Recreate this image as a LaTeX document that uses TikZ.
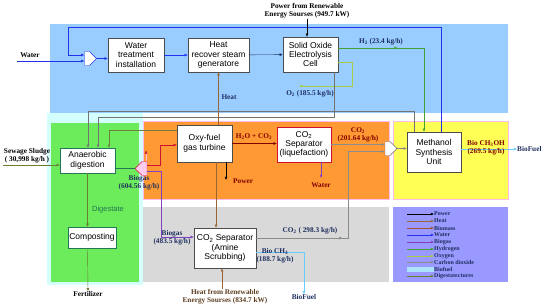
\documentclass[tikz,border=0pt]{standalone}
\usepackage{fontspec}
\setmainfont{Liberation Serif}
\setsansfont{Liberation Sans}
\usetikzlibrary{arrows.meta,positioning,shapes.symbols,decorations.markings}
\definecolor{bioSky}{HTML}{99CCFF}
\definecolor{bioCyan}{HTML}{D4FFFF}
\definecolor{bioGreen}{HTML}{6CEB5B}
\definecolor{bioOrange}{HTML}{FF9933}
\definecolor{bioYellow}{HTML}{FFFF55}
\definecolor{bioGrey}{HTML}{D9D9D9}
\definecolor{bioLegend}{HTML}{9999FF}
\definecolor{bioPink}{HTML}{FFBBEE}
\definecolor{bioPinkFill}{HTML}{FFCCEE}
\definecolor{bioBlue}{HTML}{2233EE}
\definecolor{bioHeat}{HTML}{996633}
\definecolor{bioMass}{HTML}{A0522D}
\definecolor{bioGas}{HTML}{8040C0}
\definecolor{bioRed}{HTML}{CC1133}
\definecolor{bioH2}{HTML}{44A033}
\definecolor{bioO2}{HTML}{A8CC44}
\definecolor{bioCO2}{HTML}{8C8C8C}
\definecolor{bioFuel}{HTML}{66CCFF}
\definecolor{bioDigest}{HTML}{6B7F30}
\definecolor{bioTeal}{HTML}{227755}
\definecolor{bioNavy}{HTML}{1F2F5F}
\definecolor{bioMaroon}{HTML}{800000}

\begin{document}
\begin{tikzpicture}[x=1pt,y=-1pt,
    >={Latex[length=3.2pt,width=2.8pt]},
    every node/.style={inner sep=0pt},
    unitbox/.style={draw=black!70, fill=white, font=\sffamily\fontsize{8.5}{9.4}\selectfont, align=center, inner sep=1pt},
    lbl/.style={font=\bfseries\fontsize{7.3}{8}\selectfont, align=center},
    mixer/.style={signal, draw=#1, fill=white, minimum width=12pt, minimum height=14pt, inner sep=0pt},
    midtip/.style={postaction={decorate}, decoration={markings, mark=at position #1 with {\arrow{Latex[length=3.2pt,width=2.8pt]}}}},
    powerflow/.style={color=black, ->},
    heatflow/.style={color=bioHeat, ->},
    massflow/.style={color=bioMass, ->},
    waterflow/.style={color=bioBlue, ->},
    gasflow/.style={color=bioGas, ->},
    h2flow/.style={color=bioH2, ->},
    o2flow/.style={color=bioO2, ->},
    co2flow/.style={color=bioCO2, ->},
    fuelflow/.style={color=bioFuel, ->},
    fuelkey/.style={color=bioFuel!55, line width=5pt},
    digestflow/.style={color=bioDigest, ->}]
  \useasboundingbox (0,0) rectangle (550,308);

  % zones
  \fill[bioSky] (50,24) rectangle (508,113);
  \fill[bioCyan] (47,113) rectangle (143,285);
  \fill[bioGreen] (51,123) rectangle (139,282);
  \filldraw[fill=bioOrange, draw=bioPink] (143,121) rectangle (389,199);
  \fill[bioGrey] (143,207) rectangle (389,282);
  \filldraw[fill=bioYellow, draw=bioPink] (393,121) rectangle (508,199);
  \fill[bioLegend] (393,207) rectangle (508,282);

  % units
  \node[unitbox, minimum width=56pt, minimum height=34pt] (wti) at (136,55) {Water\\treatment\\installation};
  \node[unitbox, minimum width=61pt, minimum height=34pt] (hrsg) at (218.5,55) {Heat\\recover steam\\generatore};
  \node[unitbox, minimum width=55pt, minimum height=35pt] (soec) at (310.5,54.5) {Solid Oxide\\Electrolysis\\Cell};
  \node[unitbox, draw=bioTeal, minimum width=55pt, minimum height=25pt] (ad) at (87.5,160.5) {Anaerobic\\digestion};
  \node[unitbox, draw=bioTeal, minimum width=48pt, minimum height=21pt] (comp) at (92,237.5) {Composting};
  \node[unitbox, minimum width=55pt, minimum height=37pt] (oxy) at (204.5,143.5) {Oxy-fuel\\gas turbine};
  \node[unitbox, draw=bioRed, minimum width=54pt, minimum height=35pt] (liq) at (304,144.5) {CO\textsubscript{2}\\Separator\\(liquefaction)};
  \node[unitbox, minimum width=54pt, minimum height=40pt] (meth) at (434,152) {Methanol\\Synthesis\\Unit};
  \node[unitbox, minimum width=62pt, minimum height=40pt] (amine) at (225,248) {CO\textsubscript{2} Separator\\(Amine\\Scrubbing)};

  \node[mixer=bioBlue] (mixW) at (87,58.5) {};
  \node[mixer=bioRed, signal to=west, fill=bioPinkFill] (split) at (144.5,168.5) {};
  \node[mixer=black!60] (mixC) at (387.5,148.5) {};

  % sources and sinks
  \node[lbl] (wLbl) at (30,55) {Water};
  \coordinate (wSrc) at (17,61);
  \node[lbl] (pwIn) at (307,11) {Power from Renewable\\Energy Sourses (949.7 kW)};
  \node[lbl] (ssLbl) at (27,156) {Sewage Sludge\\( 30,998 kg/h )};
  \coordinate (ssSrc) at (3,165);
  \node[lbl] (fert) at (88,294) {Fertilizer};
  \node[lbl, text=bioNavy] (bfB) at (304,297) {BioFuel};
  \node[lbl, text=bioNavy, anchor=west] (bfA) at (517,149) {BioFuel};
  \node[lbl, text=bioHeat!60!black] (hrIn) at (225,297) {Heat from Renewable\\Energy Sourses (834.7 kW)};
  \coordinate (pwOut) at (226,180);
  \coordinate (wtOut) at (321,178);
  \coordinate (o2Out) at (299,86);

  % water loop
  \coordinate (rcA) at (441,27);
  \coordinate (rcB) at (68,27);
  \draw[waterflow] (wSrc) -- (wSrc -| mixW.west);
  \draw[waterflow] (meth.north -| rcA) -- (rcA) -- (rcB) |- ([yshift=3.5pt]mixW.west);
  \draw[waterflow] (mixW.east) -- (mixW.east -| wti.west);
  \draw[waterflow] (wti) -- (hrsg);
  \draw[waterflow, color=bioNavy] (hrsg) -- (soec);
  \draw[powerflow] (pwIn.south) -- (pwIn.south |- soec.north);

  % electrolysis products
  \coordinate (h2c) at (424,48);
  \draw[h2flow, midtip=0.35] ([yshift=6.5pt]soec.east) -- (h2c) -- (h2c |- meth.north);
  \coordinate (o2c) at (352,62);
  \draw[o2flow] ([yshift=-7.5pt]soec.east) -- (o2c) |- (o2Out);
  \node[lbl, text=bioNavy] (h2Lbl) at (381,42) {H\textsubscript{2} (23.4 kg/h)};
  \node[lbl, text=bioNavy] (o2Lbl) at (310,94) {O\textsubscript{2} (185.5 kg/h)};
  \draw[heatflow] (oxy.north -| hrsg.south) -- (hrsg.south);
  \node[lbl, text=bioNavy] (heatLbl) at (229,97) {Heat};

  % returns to digester
  \coordinate (rtA) at (414,111);
  \coordinate (rtB) at (88,111);
  \draw[co2flow, color=black!55] (meth.north -| rtA) -- (rtA) -- (rtB) -- (rtB |- ad.north);
  \coordinate (rtC) at (334,117);
  \coordinate (rtD) at (98,117);
  \draw[co2flow, color=black!55] (soec.south -| rtC) -- (rtC) -- (rtD) -- (rtD |- ad.north);
  \coordinate (rtE) at (109,130);
  \draw[digestflow, color=bioDigest!80!gray] (rtE -| oxy.west) -- (rtE) -- (rtE |- ad.north);

  % digester line
  \draw[digestflow] (ssSrc) -- (ssSrc -| ad.west);
  \draw[bioTeal] (ad.east |- split.west) -- (split.west);
  \draw[digestflow] (ad.south) -- (ad.south |- comp.north);
  \node[font=\sffamily\fontsize{7.5}{8}\selectfont, text=bioTeal] (dgLbl) at (108,210) {Digestate};
  \draw[digestflow] (ad.south |- comp.south) -- (fert.north);

  % biogas split
  \coordinate (bgA) at (160,145);
  \coordinate (bgB) at (161,237);
  \draw[color=bioRed, ->] ([yshift=3pt]split.east) -| (bgA) -- (bgA -| oxy.west);
  \draw[color=bioPink, -{Latex[length=3.2pt,width=2.8pt,color=bioRed]}] ([xshift=1.5pt]split.north) -- ++(0,-11);
  \draw[gasflow] ([yshift=-3pt]split.east) -| (bgB) -- (bgB -| amine.west);
  \node[lbl, text=bioNavy] (bg1Lbl) at (139,183) {Biogas\\(604.56 kg/h)};
  \node[lbl, text=bioNavy] (bg2Lbl) at (172,238) {Biogas\\(483.5 kg/h)};

  % turbine
  \draw[color=bioMaroon, ->] (oxy.east) -- (oxy.east -| liq.west);
  \node[lbl, text=bioMaroon] (exLbl) at (254,137) {H\textsubscript{2}O + CO\textsubscript{2}};
  \draw[powerflow] ([xshift=21.5pt]oxy.south) -- (pwOut);
  \node[lbl, text=bioMaroon, anchor=west] (pwLbl) at (233,181) {Power};
  \draw[heatflow] ([xshift=11.5pt]oxy.south) -- ([xshift=11.5pt]oxy.south |- amine.north);
  \draw[color=bioGas, ->] ([xshift=17pt]liq.south) -- (wtOut);
  \node[lbl, text=bioMaroon] (wtLbl) at (321,185) {Water};

  % carbon dioxide to methanol
  \draw[co2flow] (liq.east) -- (liq.east -| mixC.west);
  \node[lbl, text=bioMaroon] (co2aLbl) at (358,135) {CO\textsubscript{2}\\(201.64 kg/h)};
  \coordinate (co2c) at (348,238);
  \draw[co2flow, midtip=0.4] ([yshift=10pt]amine.east) -- (co2c) |- ([yshift=-3pt]mixC.west);
  \node[lbl, text=bioNavy] (co2bLbl) at (310,231) {CO\textsubscript{2} ( 298.3 kg/h)};
  \draw[co2flow] (mixC.east) -- (mixC.east -| meth.west);

  % fuels
  \draw[fuelflow] ([yshift=3pt]meth.east) -- (bfA.west);
  \node[lbl, text=bioMaroon] (meLbl) at (486,148) {Bio CH\textsubscript{3}OH\\(269.5 kg/h)};
  \coordinate (bfc) at (304,252);
  \draw[fuelflow] ([yshift=-4pt]amine.east) -- (bfc) -- (bfB.north);
  \node[lbl, text=bioNavy] (chLbl) at (275,256) {Bio CH\textsubscript{4}\\(188.7 kg/h)};
  \draw[heatflow] (hrIn.north -| 222,0) -- (amine.south -| 222,0);

  % legend
  \foreach \yy/\st/\txt [count=\i] in {214/powerflow/Power, 221/heatflow/Heat, 228/massflow/Biomass,
      235/waterflow/Water, 242/gasflow/Biogas, 249/h2flow/Hydrogen, 256/o2flow/Oxygen,
      262/co2flow/Carbon dioxide, 269/fuelkey/Biofuel, 276/digestflow/Digestatectures}{
    \coordinate (legS\i) at (407,\yy);
    \node[lbl, text=bioNavy, anchor=west, font=\bfseries\fontsize{6}{6.5}\selectfont] (leg\i) at (434,\yy) {\txt};
    \draw[\st] (legS\i) -- (leg\i.west);
  }
\end{tikzpicture}
\end{document}
